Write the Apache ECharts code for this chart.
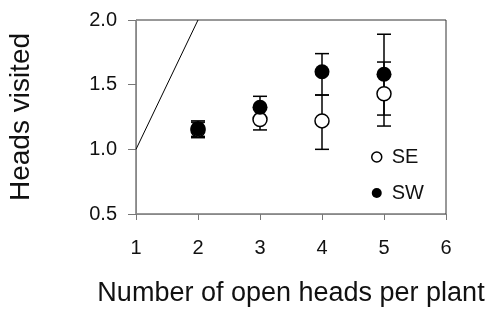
<!DOCTYPE html>
<html>
<head>
<meta charset="utf-8">
<script src="https://cdn.jsdelivr.net/npm/echarts@6/dist/echarts.min.js"></script>
<style>
html,body{margin:0;padding:0;background:#fff;}
#chart{width:495px;height:309px;}
</style>
</head>
<body>
<div id="chart"></div>
<script>
// Number of open heads per plant
const xValues = [2, 3, 4, 5];
// SE series: mean, lower and upper error bar ends
const seMean = [1.15, 1.23, 1.22, 1.43];
const seLow  = [1.09, 1.15, 1.00, 1.18];
const seHigh = [1.21, 1.31, 1.42, 1.675];
// SW series
const swMean = [1.16, 1.325, 1.60, 1.58];
const swLow  = [1.10, 1.24, 1.42, 1.265];
const swHigh = [1.22, 1.41, 1.74, 1.89];
// reference line y = x
const refLine = [[1, 1], [2, 2]];
const xTicks = [1, 2, 3, 4, 5, 6];
const yTicks = [0.5, 1.0, 1.5, 2.0];

const FONT = 'Liberation Sans, Arial, sans-serif';

function pts(xs, ys) { return xs.map((x, i) => [x, ys[i]]); }
const errData = xValues.map((x, i) => [x, seLow[i], seHigh[i]])
  .concat(xValues.map((x, i) => [x, swLow[i], swHigh[i]]));

function renderErr(params, api) {
  const x = api.value(0);
  const lo = api.coord([x, api.value(1)]);
  const hi = api.coord([x, api.value(2)]);
  const hw = 7;
  const style = { stroke: '#000', lineWidth: 1.5, fill: null };
  return {
    type: 'group',
    children: [
      { type: 'line', shape: { x1: lo[0], y1: lo[1], x2: hi[0], y2: hi[1] }, style },
      { type: 'line', shape: { x1: lo[0] - hw, y1: lo[1], x2: lo[0] + hw, y2: lo[1] }, style },
      { type: 'line', shape: { x1: hi[0] - hw, y1: hi[1], x2: hi[0] + hw, y2: hi[1] }, style }
    ]
  };
}

const chart = echarts.init(document.getElementById('chart'), null, { renderer: 'canvas' });
chart.setOption({
  animation: false,
  backgroundColor: '#fff',
  textStyle: { fontFamily: FONT },
  grid: { left: 136, right: 49, top: 20, bottom: 95, show: true, borderColor: '#333', borderWidth: 1,
    outerBoundsMode: 'none', containLabel: false },
  xAxis: {
    type: 'value', min: xTicks[0], max: xTicks[xTicks.length - 1], interval: 1,
    name: 'Number of open heads per plant', nameLocation: 'middle', nameGap: 66,
    nameTextStyle: { fontSize: 27, color: '#111', fontFamily: FONT },
    axisLine: { show: true, onZero: false, lineStyle: { color: '#888', width: 1 } },
    axisTick: { show: true, inside: false, length: 6, lineStyle: { color: '#777' } },
    axisLabel: { fontSize: 20, color: '#111', margin: 24, fontFamily: FONT },
    splitLine: { show: false }
  },
  yAxis: {
    type: 'value', min: yTicks[0], max: yTicks[yTicks.length - 1], interval: 0.5,
    name: 'Heads visited', nameLocation: 'middle', nameGap: 101, nameRotate: 90,
    nameTextStyle: { fontSize: 28, color: '#111', fontFamily: FONT },
    axisLine: { show: true, onZero: false, lineStyle: { color: '#888', width: 1 } },
    axisTick: { show: true, inside: false, length: 8, lineStyle: { color: '#777' } },
    axisLabel: { fontSize: 20, color: '#111', margin: 19, fontFamily: FONT,
      formatter: v => v.toFixed(1) },
    splitLine: { show: false }
  },
  legend: {
    orient: 'vertical', left: 366, top: 142, itemGap: 16,
    itemWidth: 20, itemHeight: 10,
    textStyle: { fontSize: 20, color: '#111', fontFamily: FONT },
    data: [
      { name: 'SE', icon: 'circle', itemStyle: { color: '#fff', borderColor: '#000', borderWidth: 1.5 } },
      { name: 'SW', icon: 'circle', itemStyle: { color: '#000', borderColor: '#000', borderWidth: 0 } }
    ]
  },
  series: [
    {
      type: 'line', data: refLine, symbol: 'none', silent: true,
      lineStyle: { color: '#000', width: 1 }, z: 1, clip: true
    },
    {
      type: 'custom', renderItem: renderErr, data: errData, z: 2, silent: true,
      encode: { x: 0, y: [1, 2] }
    },
    {
      name: 'SE', type: 'scatter', data: pts(xValues, seMean), symbol: 'circle', symbolSize: 14,
      itemStyle: { color: '#fff', borderColor: '#000', borderWidth: 1.5, opacity: 1 }, z: 3
    },
    {
      name: 'SW', type: 'scatter', data: pts(xValues, swMean), symbol: 'circle', symbolSize: 15,
      itemStyle: { color: '#000', opacity: 1 }, z: 4
    }
  ]
});
</script>
</body>
</html>
